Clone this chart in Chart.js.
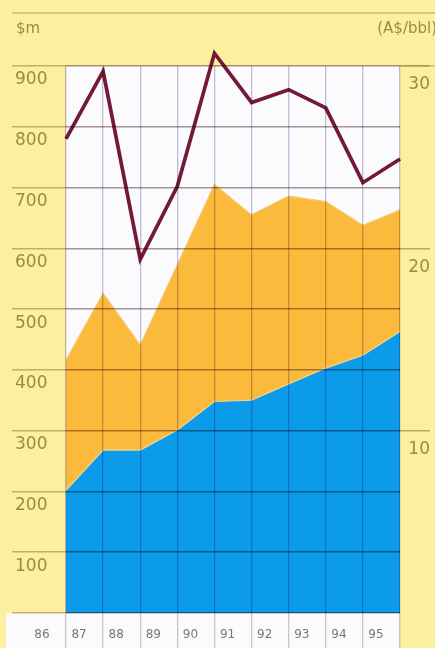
<!DOCTYPE html>
<html><head><meta charset="utf-8">
<script src="https://cdn.jsdelivr.net/npm/chart.js@4/dist/chart.umd.min.js"></script>
<style>html,body{margin:0;padding:0;background:#FCEFA0;overflow:hidden}</style>
</head><body>
<canvas id="c" width="435" height="648"></canvas>
<script>
// ---- data ----
const years = ['86','87','88','89','90','91','92','93','94','95'];
const blueValues = [202, 268, 268, 301, 348, 350, 377, 403, 424, 463];      // $m (lower band)
const orangeValues = [214, 258, 173, 272, 357, 305, 309, 274, 214, 200];    // $m (upper band, stacked)
const priceValues = [26.0, 29.7, 19.4, 23.4, 30.7, 28.0, 28.7, 27.7, 23.6, 24.9]; // A$/bbl
const leftUnit = '$m';
const rightUnit = '(A$/bbl)';

const YELLOW = '#FCEFA0';
const LABEL = '#9C8C3E';

const decor = {
  id: 'decor',
  beforeDraw(chart) {
    const {ctx, chartArea: a, width, height} = chart;
    ctx.save();
    ctx.fillStyle = YELLOW;
    ctx.fillRect(0, 0, width, height);
    ctx.fillStyle = '#FBFBFD';
    ctx.fillRect(a.left, a.top, a.right - a.left, a.bottom - a.top);
    // white label strip under the plot
    ctx.fillRect(6, a.bottom, a.right - 6, height - a.bottom);
    // header rule
    ctx.strokeStyle = 'rgba(175,150,60,0.55)';
    ctx.lineWidth = 1.5;
    ctx.beginPath(); ctx.moveTo(12, 13); ctx.lineTo(width, 13); ctx.stroke();
    // extension of the top rule across the right margin
    ctx.beginPath(); ctx.moveTo(a.right, a.top); ctx.lineTo(width, a.top); ctx.stroke();
    ctx.fillStyle = LABEL;
    ctx.font = '15px "DejaVu Sans"';
    ctx.textBaseline = 'middle';
    ctx.textAlign = 'left';
    ctx.fillText(leftUnit, 16, 29);
    ctx.textAlign = 'right';
    ctx.fillText(rightUnit, width + 2, 29);
    ctx.restore();
  },
  // grid layers (z > 0) are drawn after the datasets: tint them like printed overlay lines
  afterDatasetsDraw(chart) { chart.ctx.globalCompositeOperation = 'multiply'; },
  afterDraw(chart) { chart.ctx.globalCompositeOperation = 'source-over'; }
};

new Chart(document.getElementById('c'), {
  type: 'line',
  data: {
    labels: years,
    datasets: [
      { label: 'blue', data: blueValues, yAxisID: 'y', order: 1, stack: 's',
        backgroundColor: '#0C9BEA', borderColor: '#F2D590', borderWidth: 1.2,
        fill: 'origin', pointRadius: 0, tension: 0 },
      { label: 'orange', data: orangeValues, yAxisID: 'y', order: 2, stack: 's',
        backgroundColor: '#FBBA3C', borderColor: '#F6C872', borderWidth: 1.2,
        fill: '-1', pointRadius: 0, tension: 0 },
      { label: 'price', data: priceValues, yAxisID: 'y2', order: 0,
        borderColor: '#721A36', borderWidth: 3.7, fill: false, pointRadius: 0,
        tension: 0, clip: false, borderJoinStyle: 'miter' }
    ]
  },
  options: {
    responsive: false,
    devicePixelRatio: 1,
    animation: false,
    layout: { padding: { left: 15, right: 5, top: 66, bottom: 0 } },
    plugins: { legend: { display: false }, tooltip: { enabled: false } },
    scales: {
      x: {
        type: 'category', offset: false,
        border: { display: false },
        grid: { z: 1, color: 'rgb(196,190,218)', lineWidth: 1.3, tickLength: 35, tickColor: '#CACACD' },
        ticks: { labelOffset: -24, padding: -20, color: '#777', autoSkip: false, maxRotation: 0,
                 font: { family: 'DejaVu Sans', size: 12 } },
        afterFit(s) { s.height = 35; }
      },
      y: {
        position: 'left', stacked: true, min: 0, max: 900,
        border: { display: false },
        grid: { z: 1, color: 'rgb(170,150,145)', lineWidth: 1.5, tickLength: 54,
                tickColor: 'rgba(150,120,40,0.5)' },
        ticks: { stepSize: 100, labelOffset: 14, crossAlign: 'far', color: LABEL,
                 font: { family: 'DejaVu Sans', size: 17 },
                 callback: v => (v === 0 ? '' : v) },
        afterFit(s) { s.width = 51; }
      },
      y2: {
        position: 'right', min: 0, max: 30,
        border: { display: false },
        grid: { drawOnChartArea: false, tickLength: 30, lineWidth: 1.5,
                tickColor: c => (c.tick && c.tick.value === 0 ? 'rgba(0,0,0,0)' : 'rgba(150,120,40,0.6)') },
        ticks: { stepSize: 10, labelOffset: 19, crossAlign: 'far', color: LABEL,
                 font: { family: 'DejaVu Sans', size: 17 },
                 callback: v => (v === 0 ? '' : v) },
        afterFit(s) { s.width = 30; }
      }
    }
  },
  plugins: [decor]
});
</script>
</body></html>
